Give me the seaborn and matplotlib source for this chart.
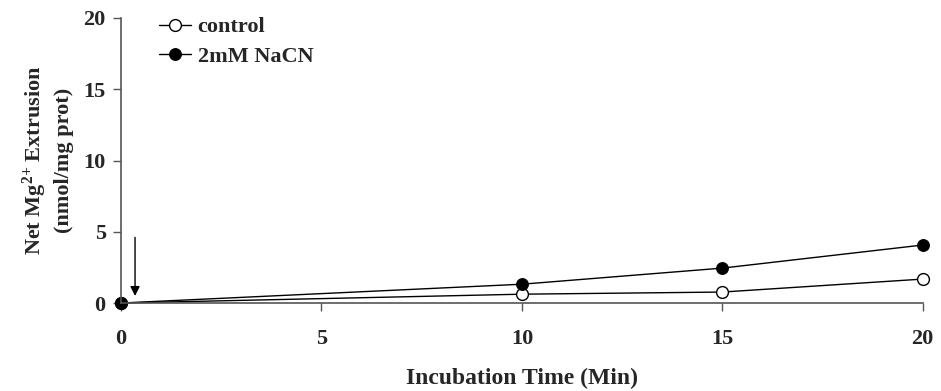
import matplotlib
matplotlib.use("Agg")
import matplotlib.pyplot as plt
import seaborn as sns
import pandas as pd

time_min = [0, 10, 15, 20]
control = [0.0, 0.62, 0.77, 1.68]
nacn = [0.0, 1.32, 2.45, 4.07]
series_names = ["control", "2mM NaCN"]
x_ticks = [0, 5, 10, 15, 20]
y_ticks = [0, 5, 10, 15, 20]

sns.set_theme(style="white")
plt.rcParams["font.family"] = ["Liberation Serif", "DejaVu Serif"]
plt.rcParams["font.weight"] = "bold"
plt.rcParams["mathtext.fontset"] = "custom"
plt.rcParams["mathtext.rm"] = "Liberation Serif:bold"
plt.rcParams["mathtext.it"] = "Liberation Serif:bold"
plt.rcParams["mathtext.bf"] = "Liberation Serif:bold"

FS = 16

fig = plt.figure(figsize=(9.41, 3.91), dpi=100)
ax = fig.add_axes([0.1286, 0.225, 0.852, 0.729])

df_c = pd.DataFrame({"t": time_min, "v": control})
df_n = pd.DataFrame({"t": time_min, "v": nacn})

sns.lineplot(data=df_c, x="t", y="v", ax=ax, color="black", lw=1.0,
             marker="o", markersize=8.5, markerfacecolor="white",
             markeredgecolor="black", markeredgewidth=1.0, label=series_names[0])
sns.lineplot(data=df_n, x="t", y="v", ax=ax, color="black", lw=1.0,
             marker="o", markersize=8.5, markerfacecolor="black",
             markeredgecolor="black", label=series_names[1])

ax.set_xlim(0, 20)
ax.set_ylim(0, 20)
ax.set_xticks(x_ticks)
ax.set_yticks(y_ticks)
ax.set_xticklabels([str(v) for v in x_ticks], fontsize=FS, fontweight="bold")
ax.set_yticklabels([str(v) for v in y_ticks], fontsize=FS, fontweight="bold")
ax.tick_params(axis="x", bottom=True, direction="out", length=6, width=1,
               pad=13, color="#555555")
ax.tick_params(axis="y", left=True, direction="out", length=6, width=1,
               pad=5, color="#555555")
for s in ["top", "right"]:
    ax.spines[s].set_visible(False)
for s in ["left", "bottom"]:
    ax.spines[s].set_color("#555555")
    ax.spines[s].set_linewidth(1.2)
for line in ax.lines:
    line.set_clip_on(False)

ax.set_xlabel("Incubation Time (Min)", fontsize=17, fontweight="bold", labelpad=13)
ax.set_ylabel("Net Mg$^{2{+}}$ Extrusion\n(nmol/mg prot)", fontsize=FS,
              fontweight="bold", labelpad=7, linespacing=1.35)

ax.annotate("", xy=(0.35, 0.3), xytext=(0.35, 4.8),
            arrowprops=dict(arrowstyle="-|>", color="black", lw=1.0,
                            mutation_scale=14))

leg = ax.legend(loc="upper left", bbox_to_anchor=(0.036, 1.035), frameon=False,
                fontsize=FS, handlelength=1.45, handletextpad=0.3,
                labelspacing=0.4, borderaxespad=0)
for t in leg.get_texts():
    t.set_fontweight("bold")

fig.savefig("out.png", dpi=100)
